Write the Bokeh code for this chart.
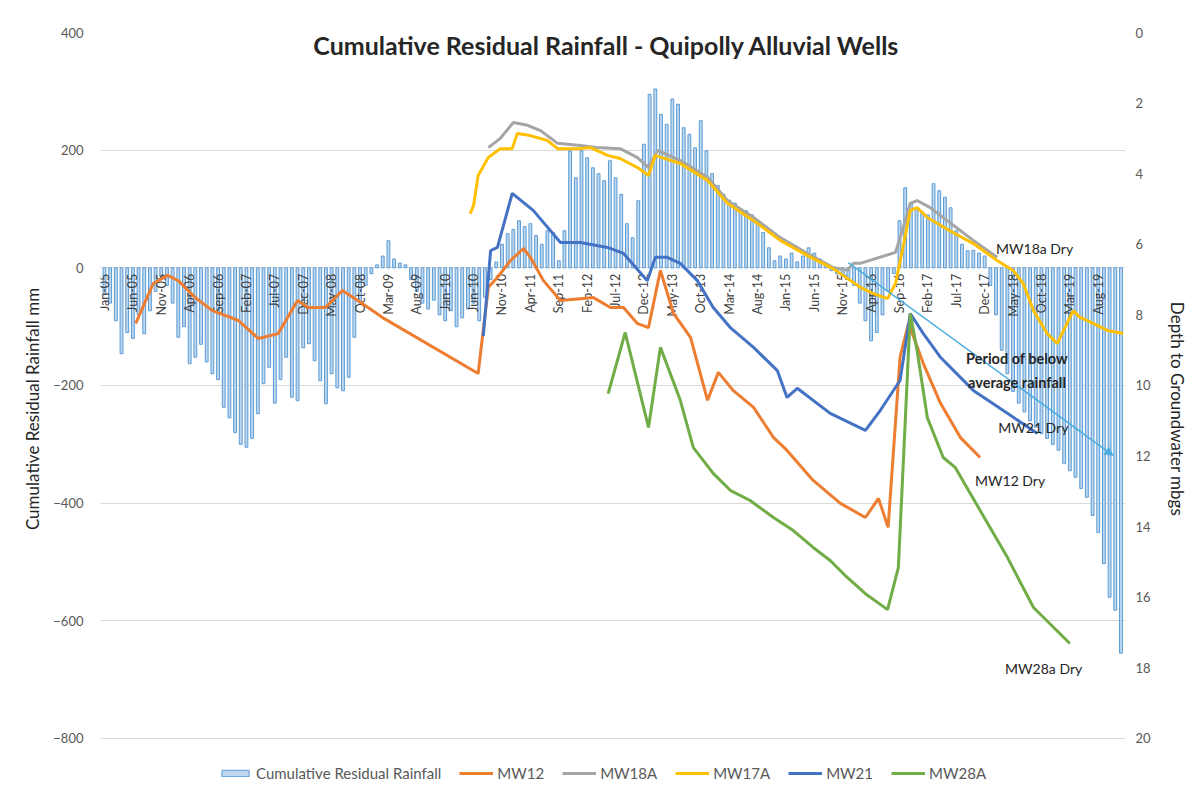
import math
from bokeh.plotting import figure
from bokeh.models import (Range1d, LinearAxis, FixedTicker, Legend, LegendItem,
                          Label, Arrow, NormalHead)
from bokeh.core.properties import value
from bokeh.embed import file_html
from bokeh.resources import INLINE

FONT = "Lato"

# ---------------- data ----------------
# month index 0 = Jan-05 ... 179 = Dec-19
tick_months = [0, 5, 10, 15, 20, 25, 30, 35, 40, 45, 50, 55, 60, 65, 70, 75, 80, 85,
               90, 95, 100, 105, 110, 115, 120, 125, 130, 135, 140, 145, 150, 155,
               160, 165, 170, 175]
tick_labels = ["Jan-05", "Jun-05", "Nov-05", "Apr-06", "Sep-06", "Feb-07", "Jul-07",
               "Dec-07", "May-08", "Oct-08", "Mar-09", "Aug-09", "Jan-10", "Jun-10",
               "Nov-10", "Apr-11", "Sep-11", "Feb-12", "Jul-12", "Dec-12", "May-13",
               "Oct-13", "Mar-14", "Aug-14", "Jan-15", "Jun-15", "Nov-15", "Apr-16",
               "Sep-16", "Feb-17", "Jul-17", "Dec-17", "May-18", "Oct-18", "Mar-19",
               "Aug-19"]

rain_2005 = [-45, -60, -90, -146, -110, -120, -80, -112, -73, -40, -15, -30]
rain_2006 = [-60, -118, -100, -163, -152, -130, -160, -180, -190, -237, -255, -280]
rain_2007 = [-300, -305, -290, -248, -197, -169, -230, -190, -152, -220, -226, -136]
rain_2008 = [-129, -158, -192, -231, -180, -204, -209, -186, -118, -60, -30, -10]
rain_2009 = [5, 20, 46, 15, 8, 5, -20, -40, -60, -70, -55, -80]
rain_2010 = [-90, -73, -100, -85, -70, -60, -90, -50, -20, 10, 40, 58]
rain_2011 = [65, 80, 70, 75, 55, 40, 63, 60, 12, 63, 199, 153]
rain_2012 = [199, 187, 170, 160, 148, 182, 153, 125, 75, 51, 114, 210]
rain_2013 = [295, 304, 261, 244, 287, 278, 238, 227, 204, 250, 199, 160]
rain_2014 = [140, 125, 115, 110, 100, 97, 90, 80, 60, 34, 12, 20]
rain_2015 = [15, 25, 10, 20, 34, 25, 15, 5, -5, -10, -15, -20]
rain_2016 = [-30, -60, -90, -124, -110, -80, -40, -10, 80, 136, 110, 100]
rain_2017 = [95, 90, 143, 131, 120, 102, 63, 40, 29, 30, 25, 20]
rain_2018 = [-30, -80, -140, -180, -210, -230, -245, -260, -271, -282, -290, -300]
rain_2019 = [-310, -333, -345, -356, -375, -390, -421, -450, -503, -560, -582, -655]

rain = (rain_2005 + rain_2006 + rain_2007 + rain_2008 + rain_2009 + rain_2010 +
        rain_2011 + rain_2012 + rain_2013 + rain_2014 + rain_2015 + rain_2016 +
        rain_2017 + rain_2018 + rain_2019)
rain_month = list(range(len(rain)))

# depth to groundwater (m) at month index
mw12_t = [5.5, 8.6, 11.1, 13.0, 16.0, 19.0, 23.6, 27.1, 30.6, 34.0, 35.9, 38.9, 41.9,
          45.4, 48.9, 65.8, 67.6, 69.2, 71.5, 73.8, 75.0, 77.3, 80.3, 83.8, 86.1, 89.1,
          91.4, 93.8, 95.8, 97.9, 100.2, 103.2, 106.2, 108.1, 110.7, 114.3, 117.8,
          120.2, 124.8, 129.6, 134.0, 136.3, 138.0, 140.1, 141.6, 144.2, 147.2, 150.7,
          154.2]
mw12_d = [8.24, 7.11, 6.88, 7.03, 7.51, 7.88, 8.16, 8.67, 8.53, 7.59, 7.79, 7.79, 7.31,
          7.68, 8.07, 9.66, 7.22, 6.94, 6.46, 6.12, 6.37, 7.03, 7.59, 7.54, 7.51, 7.79,
          7.79, 8.24, 8.36, 6.74, 7.96, 8.64, 10.42, 9.63, 10.14, 10.62, 11.47, 11.84,
          12.69, 13.34, 13.74, 13.2, 14.02, 9.2, 8.24, 9.38, 10.5, 11.47, 12.04]

mw18a_t = [67.6, 69.7, 72.0, 74.5, 76.8, 79.8, 83.8, 86.6, 90.8, 93.8, 95.8, 97.4, 101.4,
           106.2, 109.7, 114.3, 119.0, 123.8, 128.3, 130.8, 131.9, 133.1, 139.3, 140.5,
           141.9, 143.1, 145.4, 153.0, 157.2]
mw18a_d = [3.26, 3.0, 2.55, 2.63, 2.78, 3.14, 3.2, 3.26, 3.29, 3.54, 3.82, 3.34, 3.63,
           4.1, 4.76, 5.24, 5.81, 6.26, 6.66, 6.74, 6.54, 6.54, 6.23, 5.61, 4.84, 4.76,
           4.96, 5.89, 6.37]

mw17a_t = [64.4, 65.0, 65.8, 67.6, 69.7, 71.8, 72.7, 75.0, 78.0, 79.8, 83.8, 85.6, 88.6,
           90.8, 93.8, 95.8, 97.0, 101.4, 106.2, 109.7, 114.3, 119.0, 123.8, 128.3,
           133.1, 135.4, 137.9, 139.3, 140.5, 141.9, 143.1, 144.9, 148.8, 153.0, 157.2,
           160.0, 161.8, 163.6, 166.0, 167.8, 169.5, 170.6, 171.8, 174.1, 176.6, 179.4]
mw17a_d = [5.13, 4.9, 4.05, 3.54, 3.29, 3.29, 2.86, 2.92, 3.06, 3.29, 3.29, 3.26, 3.48,
           3.57, 3.82, 4.05, 3.48, 3.71, 4.19, 4.84, 5.33, 5.89, 6.32, 6.69, 7.22, 7.4,
           7.54, 7.11, 6.18, 5.04, 4.96, 5.24, 5.61, 5.98, 6.46, 6.74, 7.11, 7.88, 8.53,
           8.81, 8.24, 7.88, 8.07, 8.24, 8.44, 8.53]

mw21_t = [66.7, 68.0, 69.2, 71.8, 75.5, 80.3, 83.8, 88.6, 91.4, 95.6, 97.0, 99.1, 101.4,
          104.4, 107.2, 110.2, 114.3, 118.5, 120.2, 122.0, 127.8, 134.0, 136.6, 140.1,
          141.9, 144.2, 147.2, 153.0, 159.0, 164.3]
mw21_d = [8.6, 6.18, 6.09, 4.56, 5.04, 5.95, 5.95, 6.09, 6.26, 7.03, 6.37, 6.37, 6.54,
          7.03, 7.79, 8.36, 8.92, 9.58, 10.34, 10.08, 10.79, 11.27, 10.71, 9.86, 7.96,
          8.53, 9.2, 10.14, 10.79, 11.36]

mw28a_t = [88.7, 91.7, 95.8, 97.9, 101.4, 103.7, 107.2, 110.2, 113.7, 117.8, 121.3, 124.8,
           127.8, 130.8, 134.0, 137.9, 139.8, 140.5, 141.9, 143.1, 144.9, 147.7, 149.8,
           154.2, 159.0, 163.6, 170.0]
mw28a_d = [10.23, 8.5, 11.19, 8.92, 10.42, 11.76, 12.49, 12.97, 13.26, 13.74, 14.11,
           14.59, 14.96, 15.44, 15.9, 16.35, 15.16, 12.78, 7.96, 9.01, 10.91, 12.04, 12.32,
           13.54, 14.87, 16.29, 17.31]

# ---------------- figure ----------------
# the frame extends below -800 so that the legend sits inside it
Y_LO, Y_HI = -880, 400
D_LO = 20 + (-800 - Y_LO) / 60.0   # 60 mm of the left axis per metre of depth

p = figure(width=1190, height=791, output_backend="svg", toolbar_location=None,
           x_range=Range1d(-0.7, 179.8), y_range=Range1d(Y_LO, Y_HI),
           min_border_left=100, min_border_right=65, min_border_top=32,
           min_border_bottom=6)
p.extra_y_ranges = {"depth": Range1d(start=D_LO, end=0)}
p.outline_line_color = None
p.background_fill_color = "white"
p.border_fill_color = "white"
p.xaxis.visible = False
p.xgrid.visible = False
p.ygrid.grid_line_color = "#D9D9D9"
p.ygrid.ticker = FixedTicker(ticks=[-800, -600, -400, -200, 0, 200, 400])

ya = p.yaxis[0]
ya.ticker = FixedTicker(ticks=[-800, -600, -400, -200, 0, 200, 400])
ya.axis_line_color = None
ya.major_tick_line_color = None
ya.major_tick_out = 0
ya.major_tick_in = 0
ya.minor_tick_line_color = None
ya.major_label_text_font = FONT
ya.major_label_text_font_size = "13px"
ya.major_label_text_color = "#595959"
ya.major_label_standoff = 17
ya.axis_label = "Cumulative Residual Rainfall mm"
ya.axis_label_text_font = FONT
ya.axis_label_text_font_style = "normal"
ya.axis_label_text_font_size = "17px"
ya.axis_label_text_color = "#262626"
ya.axis_label_standoff = 7

ra = LinearAxis(y_range_name="depth", ticker=FixedTicker(ticks=list(range(0, 21, 2))),
                axis_label="Depth to Groundwater mbgs")
ra.axis_line_color = None
ra.major_tick_line_color = None
ra.major_tick_out = 0
ra.major_tick_in = 0
ra.minor_tick_line_color = None
ra.major_label_text_font = FONT
ra.major_label_text_font_size = "13px"
ra.major_label_text_color = "#595959"
ra.major_label_standoff = 10
ra.axis_label_text_font = FONT
ra.axis_label_text_font_style = "normal"
ra.axis_label_text_font_size = "17px"
ra.axis_label_text_color = "#262626"
ra.axis_label_standoff = 13
p.add_layout(ra, "right")

bars = p.vbar(x=rain_month, top=rain, bottom=0, width=0.5,
              fill_color="#BDD7EE", line_color="#5B9BD5", line_width=1)

# x category labels along the zero line
p.text(x=tick_months, y=[-10] * len(tick_months), text=tick_labels,
       angle=math.pi / 2, text_align="right", text_baseline="middle",
       text_font=value(FONT), text_font_size="12.5px", text_color="#404040")

lw = 3
r12 = p.line(mw12_t, mw12_d, y_range_name="depth", line_color="#ED7D31", line_width=lw)
r18 = p.line(mw18a_t, mw18a_d, y_range_name="depth", line_color="#A5A5A5", line_width=lw)
r17 = p.line(mw17a_t, mw17a_d, y_range_name="depth", line_color="#FFC000", line_width=lw)
r21 = p.line(mw21_t, mw21_d, y_range_name="depth", line_color="#4472C4", line_width=lw)
r28 = p.line(mw28a_t, mw28a_d, y_range_name="depth", line_color="#70AD47", line_width=lw)

# arrow: period of below average rainfall
p.add_layout(Arrow(x_start=131, y_start=6.52, x_end=177.6, y_end=11.98,
                   y_range_name="depth", line_color="#4BACE0", line_width=1.5,
                   end=NormalHead(size=8, fill_color="#4BACE0", line_color="#4BACE0")))

def lab(x, y, t, bold=False, align="left", size="14px"):
    p.add_layout(Label(x=x, y=y, y_range_name="depth", text=t, text_font=FONT,
                       text_font_size=size, text_color="#262626",
                       text_font_style="bold" if bold else "normal",
                       text_align=align, text_baseline="middle"))

lab(157.0, 6.12, "MW18a Dry")
lab(157.4, 11.19, "MW21 Dry")
lab(153.3, 12.69, "MW12 Dry")
lab(158.6, 18.02, "MW28a Dry")
lab(160.7, 9.24, "Period of below", bold=True, align="center", size="14.5px")
lab(160.7, 9.92, "average rainfall", bold=True, align="center", size="14.5px")

# title (inside plot area)
p.add_layout(Label(x=89.5, y=0.34, y_range_name="depth",
                   text="Cumulative Residual Rainfall  - Quipolly Alluvial  Wells",
                   text_font=FONT, text_font_size="25px", text_font_style="bold",
                   text_color="#262626", text_align="center", text_baseline="middle"))

legend = Legend(items=[
    LegendItem(label="Cumulative Residual Rainfall", renderers=[bars]),
    LegendItem(label="MW12", renderers=[r12]),
    LegendItem(label="MW18A", renderers=[r18]),
    LegendItem(label="MW17A", renderers=[r17]),
    LegendItem(label="MW21", renderers=[r21]),
    LegendItem(label="MW28A", renderers=[r28]),
], orientation="horizontal", location=(118, 3), border_line_color=None,
   background_fill_alpha=0, label_text_font=FONT, label_text_font_size="15px",
   label_text_color="#595959", glyph_width=34, glyph_height=8, spacing=18,
   label_standoff=4, padding=4, margin=0)
p.add_layout(legend, "center")

open("out.html", "w").write(file_html(p, INLINE))
